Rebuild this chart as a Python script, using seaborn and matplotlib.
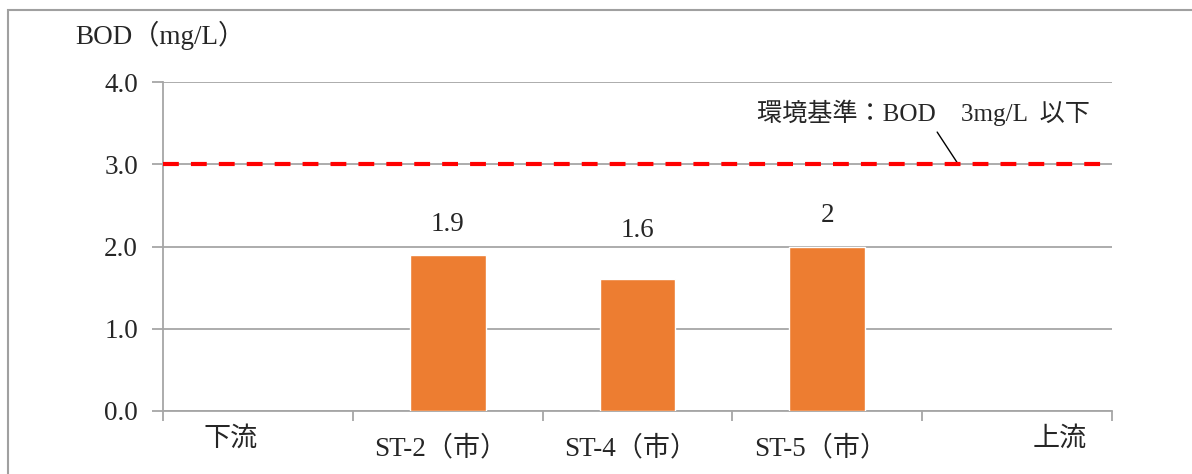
import numpy as np
import pandas as pd
import matplotlib
matplotlib.use('Agg')
import matplotlib.pyplot as plt
import matplotlib.transforms as mtransforms
from matplotlib.patches import Rectangle
import seaborn as sns

# Dane
categories = ['下流', 'ST-2（市）', 'ST-4（市）', 'ST-5（市）', '上流']
bod_values = [np.nan, 1.9, 1.6, 2.0, np.nan]
bar_labels = ['', '1.9', '1.6', '2', '']
standard_value = 3.0
standard_text = '環境基準：BOD　3mg/L  以下'
y_ticks = [0.0, 1.0, 2.0, 3.0, 4.0]

sns.set_theme(style='white')
plt.rcParams['font.family'] = ['Liberation Serif', 'Noto Sans CJK JP', 'DejaVu Sans']
FS = 19.5

df = pd.DataFrame({'site': categories, 'bod': bod_values})

fig = plt.figure(figsize=(11.92, 4.74), dpi=100)
ax = fig.add_axes([163 / 1192, 63 / 474, 949 / 1192, 329 / 474])

# ramka wykresu
fig.patches.append(Rectangle((8 / 1192, -0.1), 1.2, 1.1 - 10 / 474,
                             transform=fig.transFigure, fill=False,
                             edgecolor='#a0a0a0', linewidth=1.5))

sns.barplot(data=df, x='site', y='bod', order=categories, color='#ED7D31',
            saturation=1, width=0.4, ax=ax, zorder=3)

ax.set_xlim(-0.5, len(categories) - 0.5)
ax.set_ylim(0, 4)
ax.set_yticks(y_ticks)
ax.set_yticklabels([f'{v:.1f}' for v in y_ticks], fontsize=FS)
ax.grid(axis='y', color='#a6a6a6', linewidth=1.3, zorder=0)
ax.set_xlabel('')
ax.set_ylabel('')

for s in ['top', 'right']:
    ax.spines[s].set_visible(False)
for s in ['left', 'bottom']:
    ax.spines[s].set_color('#a6a6a6')
    ax.spines[s].set_linewidth(1.3)

# podziałki osi X na granicach kategorii
ax.set_xticks(np.arange(-0.5, len(categories), 1.0))
ax.set_xticklabels([])
ax.tick_params(axis='x', which='major', direction='out', length=7, width=1.3,
               color='#a6a6a6', bottom=True)
ax.tick_params(axis='y', direction='out', length=8, width=1.3, color='#a6a6a6',
               left=True, pad=10)

# etykiety kategorii
ax.set_xticks(np.arange(len(categories)), minor=True)
ax.set_xticklabels(categories, minor=True, fontsize=FS)
ax.tick_params(axis='x', which='minor', length=0, pad=11)
offsets = [(-27, 0), (-7, -9), (-7, -9), (-7, -9), (43, 0)]
for lbl, (dx, dy) in zip(ax.get_xticklabels(minor=True), offsets):
    lbl.set_transform(lbl.get_transform() +
                      mtransforms.ScaledTranslation(dx / 100, dy / 100, fig.dpi_scale_trans))

# etykiety wartości (1.6 przesunięta wyżej jak w oryginale)
label_pad = [0, 13, 26, 13, 0]
for i, (v, t) in enumerate(zip(bod_values, bar_labels)):
    if t:
        ax.annotate(t, (i, v), xytext=(0, label_pad[i]), textcoords='offset points',
                    ha='center', va='bottom', fontsize=FS)

# linia normy
ax.axhline(standard_value, xmin=0, xmax=0.988, color='#FF0000', linewidth=3,
           dashes=(3.8, 2.9), zorder=4)
ax.annotate(standard_text, xy=(3.69, standard_value), xytext=(2.63, 3.62),
            fontsize=FS * 0.93, ha='left', va='center',
            arrowprops=dict(arrowstyle='-', color='black', linewidth=1,
                            relpos=(0.53, 0.0), shrinkA=2, shrinkB=0))

fig.text(75 / 1192, 1 - 35 / 474, 'BOD（mg/L）', fontsize=FS, ha='left', va='center')

fig.savefig('out.png', dpi=100)
